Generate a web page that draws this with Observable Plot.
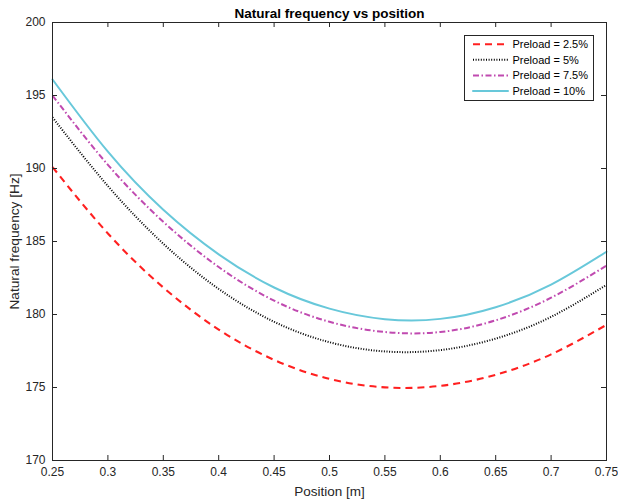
<!DOCTYPE html>
<html><head><meta charset="utf-8">
<script src="https://cdn.jsdelivr.net/npm/d3@7"></script>
<script src="https://cdn.jsdelivr.net/npm/@observablehq/plot@0.6"></script>
<style>
body{margin:0;background:#fff;}
#wrap{position:relative;width:618px;height:503px;}
</style></head><body><div id="wrap"></div>
<script>
const positions = [0.25, 0.3, 0.35, 0.4, 0.45, 0.5, 0.55, 0.6, 0.65, 0.7, 0.75];
const preload25 = [190.1, 185.55, 181.85, 178.97, 176.89, 175.59, 175.01, 175.11, 175.87, 177.27, 179.29];
const preload5  = [193.5, 188.8, 184.85, 181.75, 179.5, 178.1, 177.47, 177.56, 178.35, 179.84, 182.03];
const preload75 = [195.0, 190.25, 186.35, 183.25, 180.95, 179.5, 178.8, 178.8, 179.6, 181.15, 183.35];
const preload10 = [196.1, 191.15, 187.17, 184.12, 181.85, 180.4, 179.68, 179.7, 180.5, 182.05, 184.3];
const seriesNames = ["Preload = 2.5%", "Preload = 5%", "Preload = 7.5%", "Preload = 10%"];
const xTicks = [0.25, 0.3, 0.35, 0.4, 0.45, 0.5, 0.55, 0.6, 0.65, 0.7, 0.75];
const yTicks = [170, 175, 180, 185, 190, 195, 200];
const titleText = "Natural frequency vs position";
const xLabel = "Position [m]";
const yLabel = "Natural frequency [Hz]";

const seriesValues = [preload25, preload5, preload75, preload10];
const styles = [
  {stroke: "#ff2020", strokeWidth: 2.1, dash: "7,5", cap: "butt"},
  {stroke: "#000000", strokeWidth: 2, dash: "1,1.6", cap: "butt"},
  {stroke: "#c04ab0", strokeWidth: 2, dash: "6,2.5,1.5,2.5", cap: "butt"},
  {stroke: "#68c8da", strokeWidth: 2, dash: null, cap: "round"}
];

const W = 618, H = 503, mT = 22, mB = 43, mL = 52, mR = 12;
const pW = W - mL - mR, pH = H - mT - mB;
const axisColor = "#262626";
const font = "'Liberation Sans', Arial, Helvetica, sans-serif";

const marks = [];
seriesValues.forEach((vals, i) => {
  const data = positions.map((p, j) => ({x: p, y: vals[j]}));
  const s = styles[i];
  marks.push(Plot.line(data, {x: "x", y: "y", curve: "natural", stroke: s.stroke, strokeWidth: s.strokeWidth,
    strokeDasharray: s.dash, strokeLinecap: s.cap}));
});
marks.push(
  Plot.frame({stroke: axisColor, strokeWidth: 1}),
  Plot.tickX(xTicks, {x: d => d, insetTop: pH - 5, stroke: axisColor}),
  Plot.tickX(xTicks, {x: d => d, insetBottom: pH - 5, stroke: axisColor}),
  Plot.tickY(yTicks, {y: d => d, insetRight: pW - 5, stroke: axisColor}),
  Plot.tickY(yTicks, {y: d => d, insetLeft: pW - 5, stroke: axisColor}),
  Plot.axisX(xTicks, {tickSize: 0, tickPadding: 7, fontSize: 12, fill: axisColor, label: null,
    tickFormat: d => String(+d.toFixed(2))}),
  Plot.axisY(yTicks, {tickSize: 0, tickPadding: 7, fontSize: 12, fill: axisColor, label: null}),
  Plot.text([titleText], {text: d => d, frameAnchor: "top", dy: -4.5, lineAnchor: "bottom",
    textAnchor: "middle", fontSize: 13.5, fontWeight: "bold", fill: "#000"}),
  Plot.text([xLabel], {text: d => d, frameAnchor: "bottom", dy: 35, lineAnchor: "bottom",
    textAnchor: "middle", fontSize: 13.5, fill: axisColor}),
  Plot.text([yLabel], {text: d => d, frameAnchor: "left", dx: -34, rotate: -90, lineAnchor: "bottom",
    textAnchor: "middle", fontSize: 13.7, fill: axisColor})
);

const chart = Plot.plot({
  width: W, height: H,
  marginTop: mT, marginBottom: mB, marginLeft: mL, marginRight: mR,
  style: {fontFamily: font, background: "#fff", overflow: "visible"},
  x: {domain: [0.25, 0.75], axis: null},
  y: {domain: [170, 200], axis: null},
  marks
});
document.getElementById("wrap").appendChild(chart);

// legend
const svg = d3.select(chart);
const lg = svg.append("g").attr("font-family", font).attr("font-size", 11).attr("text-anchor", "start");
const bx = 464.5, by = 35.5, bw = 129, bh = 65;
lg.append("rect").attr("x", bx).attr("y", by).attr("width", bw).attr("height", bh)
  .attr("fill", "#fff").attr("stroke", axisColor).attr("stroke-width", 1);
seriesNames.forEach((name, i) => {
  const cy = 44.2 + i * 15.6;
  const s = styles[i];
  lg.append("line").attr("x1", 473).attr("x2", 508).attr("y1", cy).attr("y2", cy)
    .attr("stroke", s.stroke).attr("stroke-width", s.strokeWidth)
    .attr("stroke-dasharray", s.dash).attr("stroke-linecap", s.cap);
  lg.append("text").attr("x", 512.5).attr("y", cy).attr("dy", "0.35em").attr("text-anchor", "start")
    .attr("fill", "#000").text(name);
});
</script></body></html>
